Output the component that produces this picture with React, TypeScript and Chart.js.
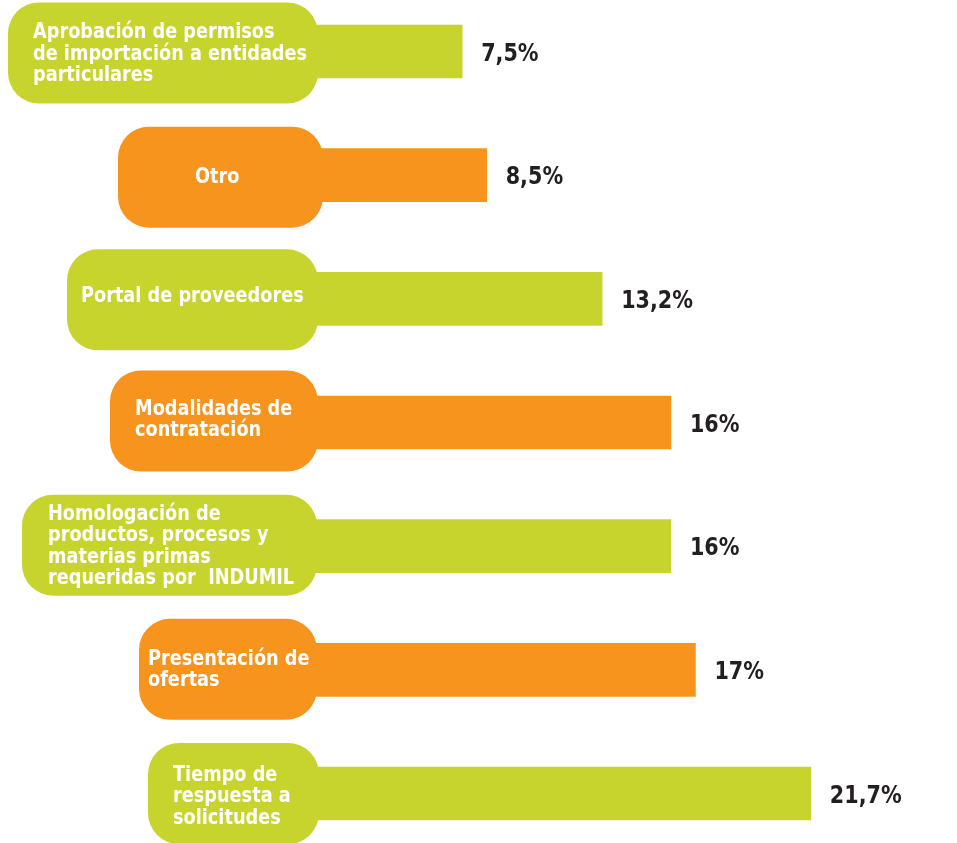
import React, { useEffect, useRef } from "react";
import { Chart, registerables } from "chart.js";

Chart.register(...registerables);

// ---- data ----
const categories: string[][] = [
  ["Aprobación de permisos", "de importación a entidades", "particulares"],
  ["Otro"],
  ["Portal de proveedores"],
  ["Modalidades de", "contratación"],
  ["Homologación de", "productos, procesos y", "materias primas", "requeridas por  INDUMIL"],
  ["Presentación de", "ofertas"],
  ["Tiempo de", "respuesta a", "solicitudes"],
];
const values = [7.5, 8.5, 13.2, 16, 16, 17, 21.7];
const valueLabels = ["7,5%", "8,5%", "13,2%", "16%", "16%", "17%", "21,7%"];

// ---- style ----
const GREEN = "#C8D42E";
const ORANGE = "#F7941E";
const barColors = [GREEN, ORANGE, GREEN, ORANGE, GREEN, ORANGE, GREEN];
const pillLeft = [8, 118, 67, 110, 22, 139, 148];
const pillRight = [318, 323, 318, 318, 317, 317, 319];
const pillDy = [1.5, 2, 1, -1.5, -1, -0.5, 0];
const textLeft = [33, 195, 81, 135, 48, 148, 173];
const textDy = [0, 0, -4.5, -5, -2, -2.5, 0.5];

const FONT_FAMILY = '"DejaVu Sans Condensed", "DejaVu Sans", sans-serif';
const LABEL_SIZE = 22;
const LABEL_SCALE_X = 0.895;
const LABEL_LH = 21.5;
const VALUE_SIZE = 25;
const VALUE_SCALE_X = 0.92;

const overlayPlugin = {
  id: "overlay",
  afterDatasetsDraw(chart: any) {
    const ctx: CanvasRenderingContext2D = chart.ctx;
    const meta = chart.getDatasetMeta(0);
    meta.data.forEach((bar: any, i: number) => {
      const { x, y } = bar.getProps(["x", "y"], true);
      const h = 101;
      const r = 31;
      const top = y + pillDy[i] - h / 2;
      ctx.save();
      ctx.fillStyle = barColors[i];
      ctx.beginPath();
      (ctx as any).roundRect(pillLeft[i], top, pillRight[i] - pillLeft[i], h, r);
      ctx.fill();

      // label text
      const lines = categories[i];
      const n = lines.length;
      const cap = LABEL_SIZE * 0.729;
      ctx.font = `bold ${LABEL_SIZE}px ${FONT_FAMILY}`;
      ctx.fillStyle = "#FFFFFF";
      ctx.textAlign = "left";
      ctx.textBaseline = "alphabetic";
      const cy = y + textDy[i];
      const firstBase = cy - ((n - 1) * LABEL_LH - cap) / 2;
      lines.forEach((ln, k) => {
        ctx.save();
        ctx.translate(textLeft[i], firstBase + k * LABEL_LH);
        ctx.scale(LABEL_SCALE_X, 1);
        ctx.fillText(ln, 0, 0);
        ctx.restore();
      });

      // value text
      ctx.font = `bold ${VALUE_SIZE}px ${FONT_FAMILY}`;
      ctx.fillStyle = "#231F20";
      const vcap = VALUE_SIZE * 0.729;
      ctx.save();
      ctx.translate(x + 19, y + vcap / 2);
      ctx.scale(VALUE_SCALE_X, 1);
      ctx.fillText(valueLabels[i], 0, 0);
      ctx.restore();
      ctx.restore();
    });
  },
};

export default function App() {
  const ref = useRef<HTMLCanvasElement | null>(null);

  useEffect(() => {
    document.body.style.margin = "0";
    const canvas = ref.current;
    if (!canvas) return;
    const chart = new Chart(canvas, {
      type: "bar",
      data: {
        labels: categories,
        datasets: [
          {
            data: values,
            backgroundColor: barColors,
            borderWidth: 0,
            barThickness: 53,
            clip: false,
          },
        ],
      },
      options: {
        indexAxis: "y",
        responsive: false,
        animation: false,
        devicePixelRatio: 1,
        layout: { padding: { left: 278, right: 16, top: 51.5, bottom: 49.5 } },
        scales: {
          x: { type: "linear", min: 0, max: 27, display: false },
          y: { type: "category", display: false, offset: false, grid: { offset: false } },
        },
        plugins: {
          legend: { display: false },
          tooltip: { enabled: false },
        },
      },
      plugins: [overlayPlugin],
    });
    return () => chart.destroy();
  }, []);

  return (
    <div style={{ width: 957, height: 843, background: "#fff" }}>
      <canvas ref={ref} width={957} height={843} style={{ display: "block" }} />
    </div>
  );
}
